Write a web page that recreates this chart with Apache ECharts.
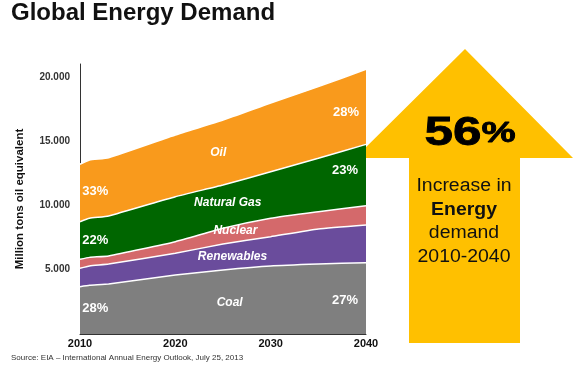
<!DOCTYPE html>
<html><head><meta charset="utf-8">
<script src="https://cdn.jsdelivr.net/npm/echarts@6/dist/echarts.min.js"></script>
<style>html,body{margin:0;padding:0;background:#fff}#c{width:577px;height:379px}</style>
</head><body><div id="c"></div>
<script>
var years = [2010, 2011, 2013, 2020, 2025, 2030, 2035, 2040];
var coal = [3680, 3790, 3890, 4590, 4980, 5290, 5440, 5550];
var renewables = [1430, 1500, 1550, 1690, 2020, 2280, 2730, 2930];
var nuclear = [700, 670, 630, 900, 1220, 1430, 1340, 1500];
var gas = [2920, 3040, 3110, 3500, 3370, 3620, 4160, 4770];
var oil = [4470, 4530, 4530, 4800, 5050, 5350, 5570, 5840];
var yTicks = [5000, 10000, 15000, 20000];
var xTicks = [2010, 2020, 2030, 2040];

var seriesDefs = [
  {name: 'Coal', data: coal, color: '#7f7f7f'},
  {name: 'Renewables', data: renewables, color: '#6a4c9c'},
  {name: 'Nuclear', data: nuclear, color: '#d4696b'},
  {name: 'Natural Gas', data: gas, color: '#006600'},
  {name: 'Oil', data: oil, color: '#f99a1c'}
];
// in-chart labels: [text, year, value, italic]
var areaLabels = [
  ['Oil', 2024.5, 14080, true],
  ['Natural Gas', 2025.5, 10190, true],
  ['Nuclear', 2026.3, 8010, true],
  ['Renewables', 2026.0, 5990, true],
  ['Coal', 2025.7, 2410, true],
  ['33%', 2011.6, 11120, false],
  ['22%', 2011.6, 7310, false],
  ['28%', 2011.6, 2020, false],
  ['28%', 2037.9, 17270, false],
  ['23%', 2037.8, 12760, false],
  ['27%', 2037.8, 2640, false]
];

// cumulative tops (drawn as overlapping areas, back to front)
var running = years.map(function () { return 0; });
var tops = seriesDefs.map(function (s) {
  running = running.map(function (v, i) { return v + s.data[i]; });
  return running.slice();
});

var chart = echarts.init(document.getElementById('c'));
var font = '"Liberation Sans", Arial, sans-serif';
var series = [];
for (var k = seriesDefs.length - 1; k >= 0; k--) {
  (function (k) {
    var s = seriesDefs[k];
    series.push({
      name: s.name, type: 'line', symbol: 'none', smooth: 0.15,
      data: years.map(function (y, i) { return [y, tops[k][i]]; }),
      lineStyle: {color: '#fff', width: 1.5},
      areaStyle: {color: s.color, opacity: 1},
      z: 2 + (seriesDefs.length - k)
    });
  })(k);
}
chart.setOption({
  animation: false,
  textStyle: {fontFamily: font},
  grid: {left: 80, right: 211, top: 64, bottom: 45},
  xAxis: {
    type: 'value', min: 2010, max: 2040, interval: 10,
    axisLine: {show: true, lineStyle: {color: '#333', width: 1}},
    axisTick: {show: false}, splitLine: {show: false},
    axisLabel: {color: '#111', fontWeight: 'bold', fontSize: 11, margin: 4,
      formatter: function (v) { return xTicks.indexOf(v) >= 0 ? String(v) : ''; }}
  },
  yAxis: {
    type: 'value', min: 0, max: 21000, interval: 1000,
    name: 'Million tons oil equivalent', nameLocation: 'middle', nameGap: 54,
    nameTextStyle: {fontWeight: 'bold', fontSize: 11.5, color: '#111'},
    axisLine: {show: true, lineStyle: {color: '#333', width: 1}},
    axisTick: {show: false}, splitLine: {show: false},
    axisLabel: {color: '#333', fontWeight: 'bold', fontSize: 10, margin: 10,
      formatter: function (v) { return yTicks.indexOf(v) >= 0 ? (v / 1000) + '.000' : ''; }}
  },
  series: series
});

var g = [];
g.push({type: 'text', left: 11, top: 1, style: {text: 'Global Energy Demand', font: 'bold 24px ' + font, fill: '#111'}});
g.push({type: 'text', left: 11, top: 354, style: {text: 'Source: EIA \u2013 International Annual Energy Outlook, July 25, 2013', font: '8px ' + font, fill: '#333'}});
g.push({type: 'polygon', shape: {points: [[465, 49], [573, 158], [520, 158], [520, 343], [409, 343], [409, 158], [355, 158]]}, style: {fill: '#ffc000'}, z: 1});
g.push({type: 'text', x: 470, y: 134, scaleX: 1.28, originX: 0, originY: 0, z: 3,
  style: {text: '{a|56}{b|%}', align: 'center', verticalAlign: 'middle', stroke: '#000', lineWidth: 0.8,
    rich: {a: {font: 'bold 40px ' + font, fill: '#000', color: '#000'}, b: {font: 'bold 30px ' + font, fill: '#000', color: '#000'}}}});
var lines = [['Increase in', 186, ''], ['Energy', 210, 'bold '], ['demand', 233, ''], ['2010-2040', 257, '']];
lines.forEach(function (l) {
  g.push({type: 'text', x: 464, y: l[1], scaleX: 1.08, originX: 0, originY: 0, z: 3,
    style: {text: l[0], font: l[2] + '18px ' + font, fill: '#111', align: 'center', verticalAlign: 'middle'}});
});
areaLabels.forEach(function (l) {
  var p = chart.convertToPixel({gridIndex: 0}, [l[1], l[2]]);
  g.push({type: 'text', x: p[0], y: p[1], z: 20, style: {text: l[0],
    font: (l[3] ? 'italic bold 12px ' : 'bold 13px ') + font, fill: '#fff', align: 'center', verticalAlign: 'middle'}});
});
chart.setOption({graphic: g});
</script></body></html>
